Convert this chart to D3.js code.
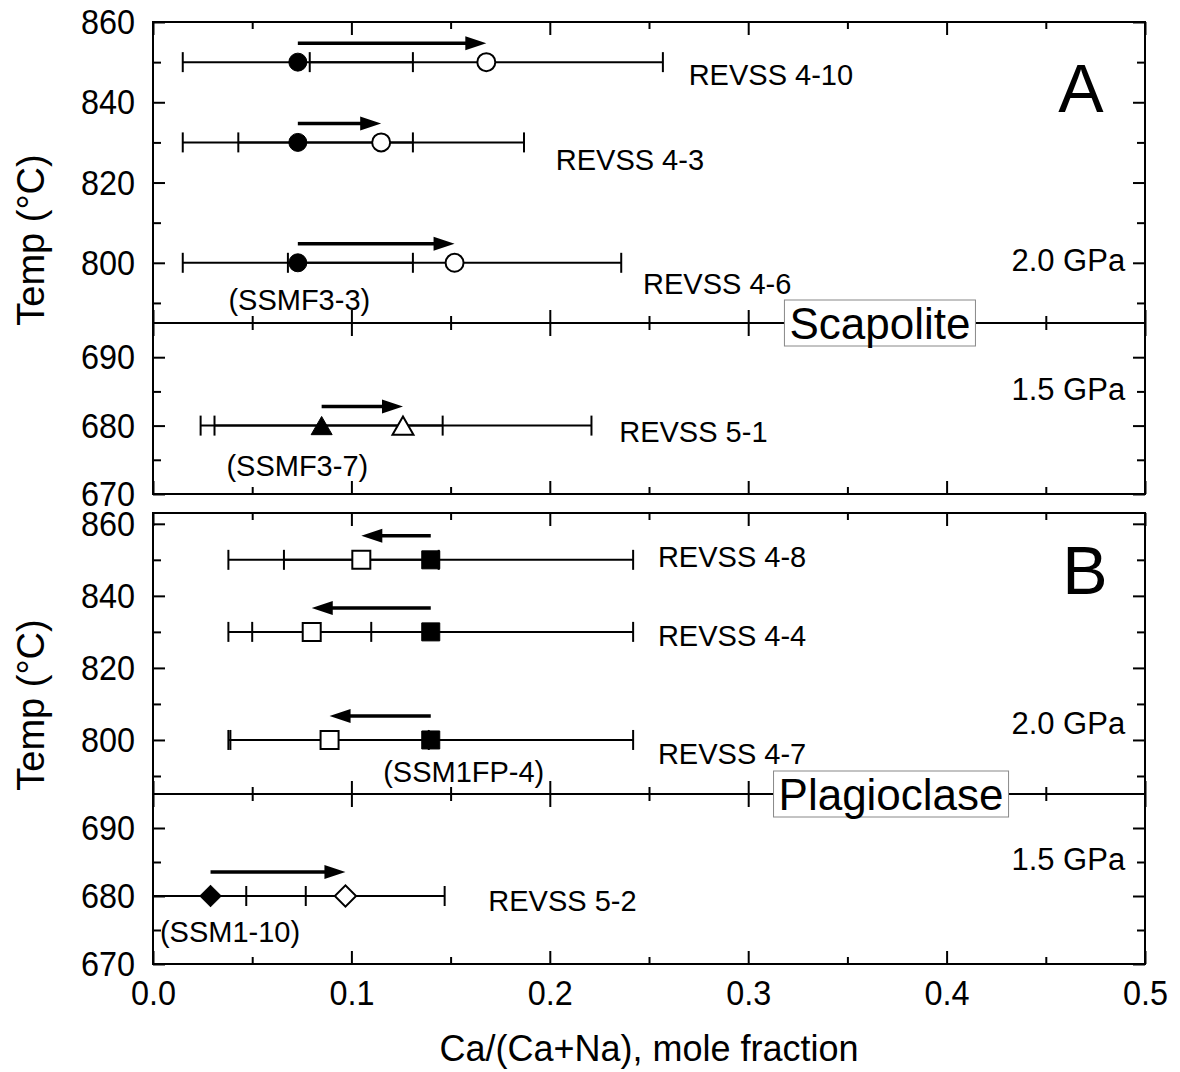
<!DOCTYPE html>
<html>
<head>
<meta charset="utf-8">
<script src="https://cdn.jsdelivr.net/npm/d3@7"></script>
<style>
body { margin: 0; background: #fff; }
text { font-family: "Liberation Sans", Arial, sans-serif; }
</style>
</head>
<body>
<script>
// x axis ticks
var xMajor = [0, 0.1, 0.2, 0.3, 0.4, 0.5];
var xMinor = [0.05, 0.15, 0.25, 0.35, 0.45];
// y ticks, upper (2.0 GPa) and lower (1.5 GPa) parts
var upperMajor = [800, 820, 840, 860];
var upperMinor = [790, 810, 830, 850];
var lowerMajor = [670, 680, 690];
var lowerMinor = [675, 685];

// Scapolite (A): start = filled symbol, end = open symbol
var scapTemps = [850, 830, 800, 680];
var scapStart = [0.073, 0.073, 0.073, 0.085];
var scapStartErr = [0.058, 0.058, 0.058, 0.061];
var scapEnd = [0.168, 0.115, 0.152, 0.126];
var scapEndErr = [0.089, 0.072, 0.084, 0.095];
var scapRuns = ["REVSS 4-10", "REVSS 4-3", "REVSS 4-6", "REVSS 5-1"];
var scapRunAt = [[0.270, 846.8], [0.203, 825.5], [0.247, 794.8], [0.235, 679.1]];
var scapSeeds = ["(SSMF3-3)", "(SSMF3-7)"];
var scapSeedAt = [[0.038, 790.8], [0.037, 674.1]];

// Plagioclase (B)
var plagTemps = [850, 830, 800, 680];
var plagStart = [0.140, 0.140, 0.140, 0.029];
var plagStartErr = [0.102, 0.102, 0.102, 0.048];
var plagEnd = [0.105, 0.080, 0.089, 0.097];
var plagEndErr = [0.039, 0.030, 0.050, 0.050];
var plagRuns = ["REVSS 4-8", "REVSS 4-4", "REVSS 4-7", "REVSS 5-2"];
var plagRunAt = [[0.2545, 850.8], [0.2545, 828.9], [0.2545, 796.1], [0.169, 679.3]];
var plagSeeds = ["(SSM1FP-4)", "(SSM1-10)"];
var plagSeedAt = [[0.116, 791.1], [0.0035, 674.7]];

var W = 1180, H = 1072;
var left = 153, right = 1145;

var svg = d3.select("body").append("svg")
    .attr("width", W)
    .attr("height", H);

var x = d3.scaleLinear().domain([0, 0.5]).range([left, right]);

var panels = [
  {letter: "A", mineral: "Scapolite", top: 22, brk: 323, bottom: 494, upDomain: [785, 860],
   temps: scapTemps, start: scapStart, startErr: scapStartErr, end: scapEnd, endErr: scapEndErr,
   runs: scapRuns, runAt: scapRunAt, seeds: scapSeeds, seedAt: scapSeedAt,
   shapes: ["circle", "circle", "circle", "triangle"], arrowOff: 19,
   letterAt: [0.4677, 843.5], gpa20: 800.5, gpa15: 685.3, boxX: 0.3664, titleY: 240, xLabels: false},
  {letter: "B", mineral: "Plagioclase", top: 513, brk: 794, bottom: 964, upDomain: [785, 863],
   temps: plagTemps, start: plagStart, startErr: plagStartErr, end: plagEnd, endErr: plagEndErr,
   runs: plagRuns, runAt: plagRunAt, seeds: plagSeeds, seedAt: plagSeedAt,
   shapes: ["square", "square", "square", "diamond"], arrowOff: 24,
   letterAt: [0.4697, 847.2], gpa20: 804.5, gpa15: 685.3, boxX: 0.372, titleY: 705, xLabels: true}
];

var symType = {circle: d3.symbolCircle, square: d3.symbolSquare, triangle: d3.symbolTriangle, diamond: d3.symbolSquare};
var symSize = {circle: 254, square: 324, triangle: 191, diamond: 225};

function styleAxis(g) {
  g.select(".domain").remove();
  g.selectAll("line").attr("stroke", "#000").attr("stroke-width", 2);
  g.attr("font-size", 36).attr("font-family", "Liberation Sans, Arial, sans-serif");
  g.selectAll("text").attr("fill", "#000").attr("transform", "scale(0.9,1)");
}

function frameAxes(g, y, yMaj, yMin, y0, y1, labelX) {
  g.append("g").attr("transform", "translate(0," + y1 + ")")
    .call(d3.axisBottom(x).tickValues(xMajor).tickSize(-13).tickPadding(15)
      .tickFormat(labelX ? d3.format(".1f") : ""))
    .call(styleAxis);
  g.append("g").attr("transform", "translate(0," + y1 + ")")
    .call(d3.axisBottom(x).tickValues(xMinor).tickSize(-7).tickFormat(""))
    .call(styleAxis);
  g.append("g").attr("transform", "translate(0," + y0 + ")")
    .call(d3.axisTop(x).tickValues(xMajor).tickSize(-13).tickFormat(""))
    .call(styleAxis);
  g.append("g").attr("transform", "translate(0," + y0 + ")")
    .call(d3.axisTop(x).tickValues(xMinor).tickSize(-7).tickFormat(""))
    .call(styleAxis);
  g.append("g").attr("transform", "translate(" + left + ",0)")
    .call(d3.axisLeft(y).tickValues(yMaj).tickSize(-12).tickPadding(20).tickFormat(d3.format("d")))
    .call(styleAxis);
  g.append("g").attr("transform", "translate(" + left + ",0)")
    .call(d3.axisLeft(y).tickValues(yMin).tickSize(-8).tickFormat(""))
    .call(styleAxis);
  g.append("g").attr("transform", "translate(" + right + ",0)")
    .call(d3.axisRight(y).tickValues(yMaj).tickSize(-12).tickFormat(""))
    .call(styleAxis);
  g.append("g").attr("transform", "translate(" + right + ",0)")
    .call(d3.axisRight(y).tickValues(yMin).tickSize(-8).tickFormat(""))
    .call(styleAxis);
  g.append("rect")
    .attr("x", left).attr("y", y0)
    .attr("width", right - left).attr("height", y1 - y0)
    .attr("fill", "none").attr("stroke", "#000").attr("stroke-width", 2);
}

panels.forEach(function (p) {
  var g = svg.append("g");
  var yUp = d3.scaleLinear().domain(p.upDomain).range([p.brk, p.top]);
  var yLo = d3.scaleLinear().domain([670, 695]).range([p.bottom, p.brk]);
  var yOf = function (t) { return t >= 700 ? yUp(t) : yLo(t); };

  frameAxes(g, yUp, upperMajor, upperMinor, p.top, p.brk, false);
  frameAxes(g, yLo, lowerMajor, lowerMinor, p.brk, p.bottom, p.xLabels);

  // error bars: one for the starting and one for the final composition
  var bars = [];
  p.temps.forEach(function (t, i) {
    bars.push({t: t, lo: p.start[i] - p.startErr[i], hi: p.start[i] + p.startErr[i]});
    bars.push({t: t, lo: p.end[i] - p.endErr[i], hi: p.end[i] + p.endErr[i]});
  });
  var eb = g.append("g").attr("stroke", "#000").attr("stroke-width", 2);
  bars.forEach(function (b) {
    var yy = yOf(b.t);
    var x0 = x(Math.max(0, b.lo)), x1 = x(b.hi);
    eb.append("line").attr("x1", x0).attr("x2", x1).attr("y1", yy).attr("y2", yy);
    if (b.lo > 0) eb.append("line").attr("x1", x0).attr("x2", x0).attr("y1", yy - 10).attr("y2", yy + 10);
    eb.append("line").attr("x1", x1).attr("x2", x1).attr("y1", yy - 10).attr("y2", yy + 10);
  });

  // arrows from start to end composition
  p.temps.forEach(function (t, i) {
    var ya = yOf(t) - p.arrowOff;
    var xs = x(p.start[i]), xe = x(p.end[i]);
    var dir = xe > xs ? 1 : -1;
    var head = 21, half = 7;
    g.append("line")
      .attr("x1", xs).attr("x2", xe - dir * (head - 2))
      .attr("y1", ya).attr("y2", ya)
      .attr("stroke", "#000").attr("stroke-width", 3.5);
    g.append("path")
      .attr("d", "M" + xe + "," + ya + "L" + (xe - dir * head) + "," + (ya - half) +
                 "L" + (xe - dir * head) + "," + (ya + half) + "Z")
      .attr("fill", "#000");
  });

  // symbols
  p.temps.forEach(function (t, i) {
    var sh = p.shapes[i];
    var sym = d3.symbol().type(symType[sh]).size(symSize[sh]);
    var rot = sh === "diamond" ? " rotate(45)" : "";
    var dy = sh === "triangle" ? 3 : 0;
    g.append("path").attr("d", sym())
      .attr("transform", "translate(" + x(p.end[i]) + "," + (yOf(t) + dy) + ")" + rot)
      .attr("fill", "#fff").attr("stroke", "#000").attr("stroke-width", 2);
    g.append("path").attr("d", sym())
      .attr("transform", "translate(" + x(p.start[i]) + "," + (yOf(t) + dy) + ")" + rot)
      .attr("fill", "#000").attr("stroke", "#000").attr("stroke-width", 1);
  });

  // run and seed labels
  p.runs.forEach(function (r, i) {
    g.append("text").attr("x", x(p.runAt[i][0])).attr("y", yOf(p.runAt[i][1]))
      .attr("dominant-baseline", "central").attr("font-size", 29).text(r);
  });
  p.seeds.forEach(function (s, i) {
    g.append("text").attr("x", x(p.seedAt[i][0])).attr("y", yOf(p.seedAt[i][1]))
      .attr("dominant-baseline", "central").attr("font-size", 29).text(s);
  });

  // pressure labels
  g.append("text").attr("x", x(0.49)).attr("y", yUp(p.gpa20))
    .attr("text-anchor", "end").attr("dominant-baseline", "central")
    .attr("font-size", 31).text("2.0 GPa");
  g.append("text").attr("x", x(0.49)).attr("y", yLo(p.gpa15))
    .attr("text-anchor", "end").attr("dominant-baseline", "central")
    .attr("font-size", 31).text("1.5 GPa");

  // panel letter
  g.append("text").attr("x", x(p.letterAt[0])).attr("y", yUp(p.letterAt[1]))
    .attr("text-anchor", "middle").attr("dominant-baseline", "central")
    .attr("font-size", 68).text(p.letter);

  // mineral name box on the break line
  var box = g.append("rect").attr("fill", "#fff").attr("stroke", "#888").attr("stroke-width", 1);
  var mt = g.append("text").attr("x", x(p.boxX)).attr("y", p.brk)
    .attr("text-anchor", "middle").attr("dominant-baseline", "central")
    .attr("font-size", 44).text(p.mineral);
  var bb = mt.node().getBBox();
  box.attr("x", bb.x - 5).attr("y", p.brk - 23).attr("width", bb.width + 10).attr("height", 46);

  // y title
  svg.append("text")
    .attr("transform", "translate(44," + p.titleY + ") rotate(-90)")
    .attr("text-anchor", "middle").attr("font-size", 38)
    .text("Temp (°C)");
});

svg.append("text")
  .attr("x", (left + right) / 2).attr("y", 1061)
  .attr("text-anchor", "middle").attr("font-size", 36)
  .text("Ca/(Ca+Na), mole fraction");
</script>
</body>
</html>
